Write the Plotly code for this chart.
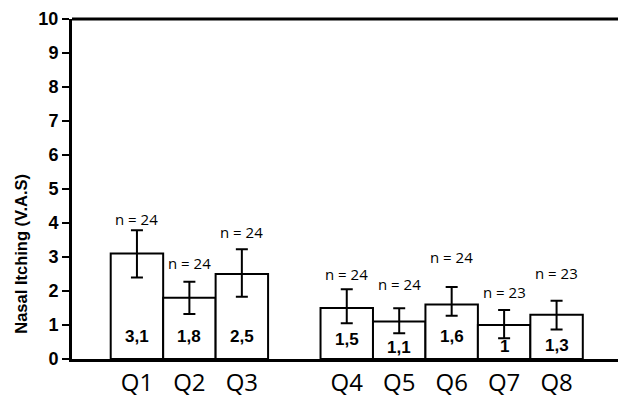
import plotly.graph_objects as go

# Questionnaire items, mean nasal itching score and error bar extents
categories = ["Q1", "Q2", "Q3", "Q4", "Q5", "Q6", "Q7", "Q8"]
means = [3.1, 1.8, 2.5, 1.5, 1.1, 1.6, 1.0, 1.3]
value_labels = ["3,1", "1,8", "2,5", "1,5", "1,1", "1,6", "1", "1,3"]
err_plus = [0.69, 0.47, 0.73, 0.55, 0.39, 0.52, 0.44, 0.41]
err_minus = [0.70, 0.48, 0.67, 0.45, 0.34, 0.33, 0.39, 0.43]
n_labels = ["n = 24", "n = 24", "n = 24", "n = 24", "n = 24", "n = 24", "n = 23", "n = 23"]

# Two groups of bars separated by one empty slot
groups = [3, 5]
xpos = []
start = 0
for size in groups:
    xpos.extend(range(start, start + size))
    start += size + 1

# Vertical placement of annotation text (data units)
value_label_y = [0.65, 0.65, 0.65, 0.56, 0.35, 0.65, 0.38, 0.41]
n_label_y = [4.12, 2.82, 3.74, 2.50, 2.20, 3.00, 1.97, 2.53]

BOLD_FONT = "Arial"

fig = go.Figure()
fig.add_trace(go.Bar(
    x=xpos,
    y=means,
    width=1.0,
    marker=dict(color="white", line=dict(color="black", width=2)),
    error_y=dict(type="data", symmetric=False, array=err_plus, arrayminus=err_minus,
                 color="black", thickness=2, width=6),
    hoverinfo="skip",
))

for x, y, t in zip(xpos, value_label_y, value_labels):
    fig.add_annotation(x=x, y=y, text="<b>" + t + "</b>", showarrow=False,
                       font=dict(family=BOLD_FONT, size=17, color="black"))
for x, y, t in zip(xpos, n_label_y, n_labels):
    fig.add_annotation(x=x, y=y, text=t, showarrow=False,
                       font=dict(family="Open Sans", size=15, color="black"))

# Y-axis title, set lower than the axis midpoint
fig.add_annotation(xref="paper", yref="paper", x=-0.095, y=0.31, textangle=-90,
                   xanchor="center", yanchor="middle",
                   text="<b>Nasal Itching (V.A.S)</b>", showarrow=False,
                   font=dict(family=BOLD_FONT, size=16.5, color="black"))

# Top border of the plotting area
fig.add_shape(type="line", xref="paper", yref="paper", x0=0, x1=1, y0=1, y1=1,
              line=dict(color="black", width=3))

fig.update_layout(
    width=618, height=402,
    margin=dict(l=72, r=0, t=19, b=43),
    plot_bgcolor="white", paper_bgcolor="white",
    showlegend=False,
    xaxis=dict(
        range=[-1.238, 9.171],
        tickvals=xpos, ticktext=categories,
        tickfont=dict(family="Open Sans", size=24, color="black"),
        showgrid=False, zeroline=False,
        showline=True, linecolor="black", linewidth=3,
        ticks="", ticklen=0,
    ),
    yaxis=dict(
        range=[0, 10], dtick=1,
        tickvals=list(range(11)),
        ticktext=["<b>%d</b>" % v for v in range(11)],
        tickfont=dict(family=BOLD_FONT, size=18, color="black"),
        showgrid=False, zeroline=False,
        showline=True, linecolor="black", linewidth=3,
        ticks="outside", ticklen=7, tickwidth=2, tickcolor="black",
    ),
)

fig.write_html("out.html")
